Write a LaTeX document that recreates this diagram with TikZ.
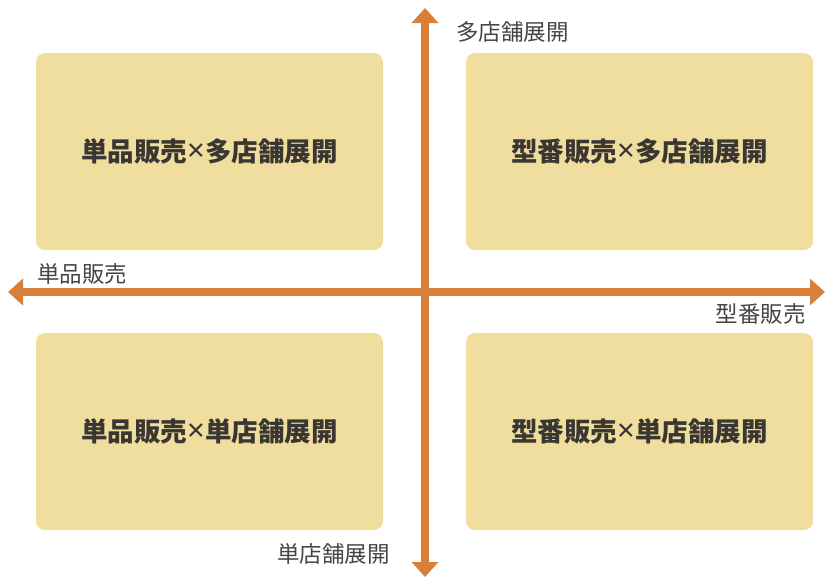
\documentclass[tikz,border=0pt]{standalone}
\usepackage{fontspec}
\newfontfamily\cjk{Noto Sans CJK JP}
\newfontfamily\latinsans{Noto Sans}
\usetikzlibrary{arrows.meta}
\definecolor{axis}{HTML}{D8803A}
\definecolor{boxfill}{HTML}{F0DE9E}
\definecolor{boxtext}{HTML}{3A3632}
\definecolor{labtext}{HTML}{444444}
\newcommand{\tms}{{\latinsans\mdseries\fontsize{31}{30}\selectfont ×}}
\tikzset{
  quad/.style={fill=boxfill, rounded corners=9pt, minimum width=347pt, minimum height=197pt, inner sep=0pt,
    font=\cjk\bfseries\fontsize{26.5}{30}\selectfont, text=boxtext},
  axlabel/.style={font=\cjk\fontsize{22.5}{26}\selectfont, text=labtext, inner sep=0pt},
  axarrow/.style={draw=axis, line width=8pt, -{Triangle[width=26pt,length=15pt]}}
}
\begin{document}
\begin{tikzpicture}[x=1pt,y=-1pt]
\useasboundingbox (0,0) rectangle (825,579);
\node[quad] (tl) at (209.5,151.5) {単品販売\tms 多店舗展開};
\node[quad] (tr) at (639.5,151.5) {型番販売\tms 多店舗展開};
\node[quad] (bl) at (209.5,431.5) {単品販売\tms 単店舗展開};
\node[quad] (br) at (639.5,431.5) {型番販売\tms 単店舗展開};
\coordinate (c) at (425,292);
\coordinate (top) at (425,8);
\coordinate (bot) at (425,577);
\coordinate (lft) at (8,292);
\coordinate (rgt) at (825,292);
\draw[axarrow] (c) -- (top);
\draw[axarrow] (c) -- (bot);
\draw[axarrow] (c) -- (lft);
\draw[axarrow] (c) -- (rgt);
\node[axlabel, anchor=west] (ltop) at (456,32) {多店舗展開};
\node[axlabel, anchor=west] (llft) at (37,274) {単品販売};
\node[axlabel, anchor=east] (lrgt) at (806,314) {型番販売};
\node[axlabel, anchor=east] (lbot) at (390,554) {単店舗展開};
\end{tikzpicture}
\end{document}
